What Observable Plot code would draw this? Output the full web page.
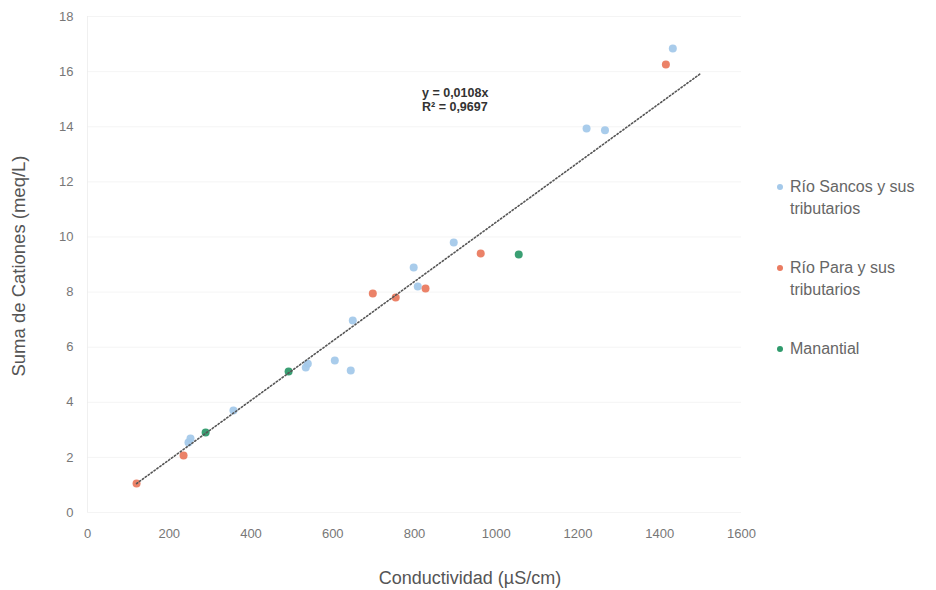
<!DOCTYPE html>
<html><head><meta charset="utf-8">
<script src="https://cdn.jsdelivr.net/npm/d3@7"></script>
<script src="https://cdn.jsdelivr.net/npm/@observablehq/plot@0.6"></script>
<style>
body{margin:0;background:#fff;font-family:"Liberation Sans",Arial,sans-serif;}
#wrap{position:relative;width:936px;height:590px;overflow:hidden;}
#wrap svg{position:absolute;left:0;top:0;}
.t{position:absolute;color:#555;white-space:nowrap;}
.leg{position:absolute;left:777px;font-size:16px;color:#666;line-height:22px;}
.leg span.d{position:absolute;left:0;top:8px;width:6px;height:6px;border-radius:50%;}
.leg div.l{padding-left:13px;}
</style></head>
<body><div id="wrap"></div>
<script>
const seriesNames = ["Río Sancos y sus tributarios", "Río Para y sus tributarios", "Manantial"];
const seriesColors = ["#a4c9ea", "#ea7b60", "#2f9a6c"];
const sancosX = [1432, 1221, 1266, 896, 798, 808, 649, 605, 644, 539, 534, 357, 252, 247];
const sancosY = [16.84, 13.94, 13.87, 9.80, 8.89, 8.20, 6.97, 5.52, 5.15, 5.40, 5.26, 3.70, 2.69, 2.54];
const paraX = [1415, 962, 827, 754, 698, 235, 120];
const paraY = [16.26, 9.40, 8.13, 7.80, 7.95, 2.07, 1.05];
const manX = [1055, 492, 289];
const manY = [9.36, 5.12, 2.90];
const xTicks = [0, 200, 400, 600, 800, 1000, 1200, 1400, 1600];
const yTicks = [0, 2, 4, 6, 8, 10, 12, 14, 16, 18];
const trendX = [120, 1500];
const trendY = [1.05, 15.93];
const eqLines = ["y = 0,0108x", "R² = 0,9697"];

const pts = [];
[[sancosX, sancosY], [paraX, paraY], [manX, manY]].forEach(([xs, ys], i) =>
  xs.forEach((x, j) => pts.push({x, y: ys[j], s: seriesNames[i]})));
const trend = trendX.map((x, i) => ({x, y: trendY[i]}));

const plot = Plot.plot({
  width: 936, height: 590,
  marginLeft: 87, marginRight: 195, marginTop: 16, marginBottom: 78,
  style: {fontFamily: '"Liberation Sans",Arial,sans-serif', fontSize: "13px", color: "#777", background: "#fff"},
  x: {domain: [0, 1600], ticks: xTicks, tickFormat: d3.format("d"), tickSize: 0, tickPadding: 16, label: null},
  y: {domain: [0, 18], ticks: yTicks, tickFormat: d3.format("d"), tickSize: 0, tickPadding: 14, label: null},
  color: {domain: seriesNames, range: seriesColors},
  marks: [
    Plot.gridY(yTicks, {stroke: "#f1f1f1", strokeOpacity: 1, strokeWidth: 0.8}),
    Plot.ruleX([0], {stroke: "#ececec", strokeWidth: 0.8}),
    Plot.dot(pts, {x: "x", y: "y", fill: "s", r: 4, stroke: "none", fillOpacity: 0.95}),
    Plot.line(trend, {x: "x", y: "y", stroke: "#555", strokeWidth: 1.6, strokeDasharray: "1.4 2.2"})
  ]
});
const wrap = document.getElementById("wrap");
wrap.appendChild(plot);

function addText(txt, css) {
  const d = document.createElement("div");
  d.className = "t";
  d.textContent = txt;
  Object.assign(d.style, css);
  wrap.appendChild(d);
  return d;
}
addText("Suma de Cationes (meq/L)", {left: "19px", top: "266px", fontSize: "18.5px", transform: "translate(-50%,-50%) rotate(-90deg)", color: "#555"});
addText("Conductividad (µS/cm)", {left: "470px", top: "578px", fontSize: "18px", transform: "translate(-50%,-50%)", color: "#555"});
addText(eqLines[0], {left: "422px", top: "87px", fontSize: "12.5px", color: "#333", fontWeight: "bold", lineHeight: "12px"});
addText(eqLines[1], {left: "422px", top: "101px", fontSize: "12.5px", color: "#333", fontWeight: "bold", lineHeight: "12px"});

const legTops = [176, 257, 338];
const legLines = [["Río Sancos y sus", "tributarios"], ["Río Para y sus", "tributarios"], ["Manantial"]];
legLines.forEach((lines, i) => {
  const g = document.createElement("div");
  g.className = "leg";
  g.style.top = legTops[i] + "px";
  const dot = document.createElement("span");
  dot.className = "d";
  dot.style.background = seriesColors[i];
  g.appendChild(dot);
  lines.forEach(l => { const e = document.createElement("div"); e.className = "l"; e.textContent = l; g.appendChild(e); });
  wrap.appendChild(g);
});
</script></body></html>
